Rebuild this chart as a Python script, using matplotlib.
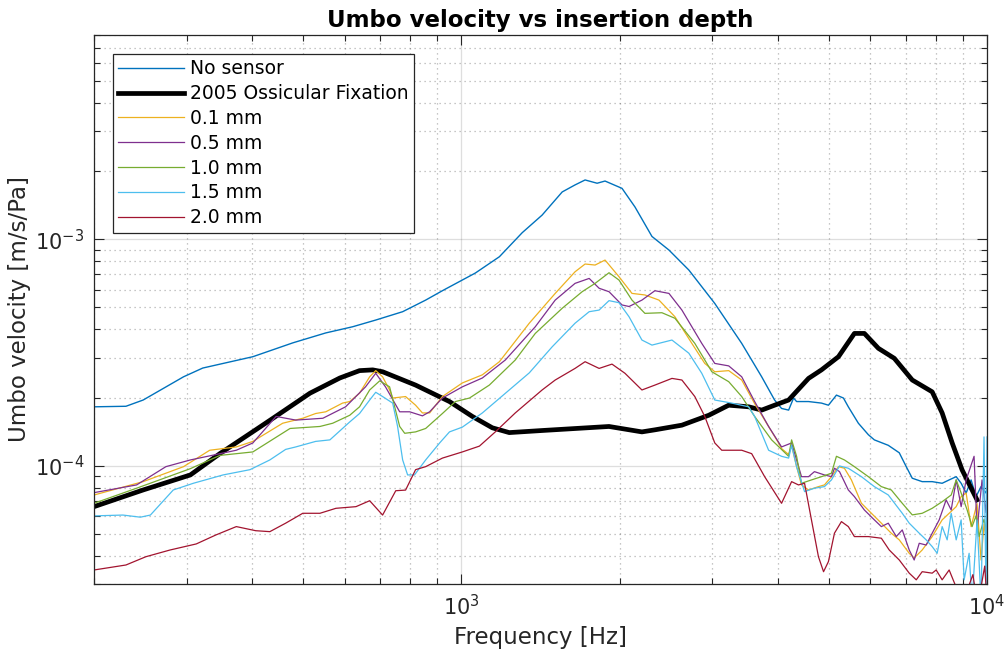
import matplotlib
matplotlib.use("Agg")
import matplotlib.pyplot as plt
from matplotlib.ticker import LogLocator, LogFormatterMathtext, NullFormatter

# frequency [Hz] / umbo velocity [m/s/Pa]
f_ns = [200, 230, 248, 296, 322, 401, 478, 552, 621, 687, 773, 855, 920, 1063, 1181,
        1305, 1424, 1555, 1645, 1719, 1812, 1876, 2021, 2139, 2304, 2482, 2708, 3034,
        3414, 3726, 3943, 4065, 4193, 4285, 4342, 4575, 4842, 4992, 5170, 5331, 5446,
        5691, 5946, 6104, 6488, 6808, 7019, 7207, 7527, 7864, 8215, 8471, 8736, 8928,
        9126, 9325, 9530, 9741, 9957, 10000]
v_ns = [1.82e-4, 1.83e-4, 1.95e-4, 2.47e-4, 2.70e-4, 3.03e-4, 3.49e-4, 3.86e-4, 4.11e-4,
        4.40e-4, 4.79e-4, 5.39e-4, 5.93e-4, 7.10e-4, 8.38e-4, 1.07e-3, 1.28e-3, 1.62e-3,
        1.74e-3, 1.83e-3, 1.77e-3, 1.81e-3, 1.68e-3, 1.39e-3, 1.03e-3, 8.97e-4, 7.32e-4,
        5.21e-4, 3.47e-4, 2.47e-4, 1.95e-4, 1.79e-4, 1.76e-4, 1.99e-4, 1.92e-4, 1.92e-4,
        1.89e-4, 1.85e-4, 2.05e-4, 1.99e-4, 1.82e-4, 1.54e-4, 1.37e-4, 1.30e-4, 1.23e-4,
        1.14e-4, 9.9e-5, 8.8e-5, 8.5e-5, 8.5e-5, 8.36e-5, 8.65e-5, 8.94e-5, 8.36e-5,
        7.57e-5, 8.65e-5, 7.3e-5, 8.08e-5, 7.57e-5, 8.0e-5]

f_fix = [200, 248, 305, 347, 406, 438, 515, 587, 640, 678, 708, 818, 949, 1049, 1145,
         1233, 1424, 1909, 2205, 2334, 2627, 2955, 3225, 3520, 3726, 3943, 4193, 4575,
         4842, 5216, 5593, 5843, 6213, 6662, 7207, 7864, 8215, 8584, 8967, 9366, 9572]
v_fix = [6.59e-5, 7.81e-5, 9.1e-5, 1.13e-4, 1.44e-4, 1.62e-4, 2.09e-4, 2.44e-4, 2.63e-4,
         2.65e-4, 2.60e-4, 2.27e-4, 1.92e-4, 1.65e-4, 1.47e-4, 1.40e-4, 1.43e-4, 1.49e-4,
         1.41e-4, 1.44e-4, 1.51e-4, 1.67e-4, 1.85e-4, 1.82e-4, 1.76e-4, 1.85e-4, 1.95e-4,
         2.43e-4, 2.65e-4, 3.03e-4, 3.84e-4, 3.84e-4, 3.30e-4, 2.98e-4, 2.39e-4, 2.12e-4,
         1.71e-4, 1.26e-4, 9.57e-5, 7.81e-5, 7.06e-5]

f_01 = [200, 248, 296, 332, 373, 401, 457, 499, 528, 552, 594, 613, 640, 669, 687, 708,
        730, 740, 783, 818, 843, 870, 920, 1004, 1096, 1181, 1346, 1508, 1645, 1719, 1796,
        1876, 1994, 2111, 2234, 2376, 2548, 2744, 2904, 3034, 3225, 3414, 3613, 3775, 4012,
        4065, 4193, 4248, 4342, 4436, 4575, 4778, 4905, 5058, 5216, 5354, 5520, 5768, 6026,
        6294, 6574, 6808, 7112, 7268, 7527, 7864, 8215, 8471, 8736, 8928, 9126, 9325, 9572,
        9741, 9869, 10000]
v_01 = [7.42e-5, 8.50e-5, 9.9e-5, 1.17e-4, 1.21e-4, 1.28e-4, 1.54e-4, 1.62e-4, 1.70e-4,
        1.73e-4, 1.89e-4, 1.92e-4, 2.09e-4, 2.47e-4, 2.63e-4, 2.47e-4, 2.16e-4, 1.99e-4,
        2.02e-4, 1.85e-4, 1.71e-4, 1.71e-4, 2.02e-4, 2.32e-4, 2.52e-4, 2.88e-4, 4.26e-4,
        5.77e-4, 7.19e-4, 7.78e-4, 7.7e-4, 8.10e-4, 6.84e-4, 5.77e-4, 5.68e-4, 5.39e-4,
        4.55e-4, 3.47e-4, 2.83e-4, 2.60e-4, 2.63e-4, 2.39e-4, 1.88e-4, 1.59e-4, 1.26e-4,
        1.19e-4, 1.12e-4, 1.23e-4, 9.9e-5, 8.22e-5, 7.81e-5, 8.08e-5, 8.22e-5, 8.94e-5,
        9.9e-5, 9.74e-5, 8.65e-5, 6.82e-5, 6.16e-5, 5.57e-5, 5.03e-5, 4.70e-5, 4.10e-5,
        3.91e-5, 4.24e-5, 4.86e-5, 5.76e-5, 6.16e-5, 6.59e-5, 7.3e-5, 7.57e-5, 5.38e-5,
        6.8e-5, 3.83e-5, 5.5e-5, 4.5e-5]

f_05 = [200, 241, 274, 305, 373, 401, 444, 484, 545, 602, 657, 687, 717, 763, 797, 843,
        870, 920, 1004, 1096, 1212, 1382, 1508, 1645, 1750, 1828, 1909, 2021, 2084, 2205,
        2334, 2482, 2627, 2866, 3034, 3225, 3414, 3613, 3841, 4065, 4248, 4342, 4436, 4575,
        4695, 4905, 5058, 5125, 5240, 5446, 5593, 5843, 6104, 6294, 6488, 6720, 6898, 7112,
        7268, 7430, 7660, 7864, 8109, 8360, 8547, 8736, 8928, 9126, 9448, 9572, 9784, 9957,
        10000]
v_05 = [7.6e-5, 8.22e-5, 9.9e-5, 1.06e-4, 1.17e-4, 1.26e-4, 1.65e-4, 1.59e-4, 1.62e-4,
        1.82e-4, 2.23e-4, 2.56e-4, 2.23e-4, 1.73e-4, 1.73e-4, 1.66e-4, 1.73e-4, 1.99e-4,
        2.23e-4, 2.44e-4, 2.93e-4, 4.11e-4, 5.39e-4, 6.39e-4, 6.72e-4, 6.08e-4, 5.87e-4,
        5.13e-4, 5.05e-4, 5.39e-4, 5.93e-4, 5.77e-4, 4.87e-4, 3.47e-4, 2.83e-4, 2.76e-4,
        2.47e-4, 1.92e-4, 1.49e-4, 1.21e-4, 1.26e-4, 1.06e-4, 8.94e-5, 8.94e-5, 9.41e-5,
        9.1e-5, 8.94e-5, 9.74e-5, 9.41e-5, 7.81e-5, 7.30e-5, 6.37e-5, 5.76e-5, 5.38e-5,
        5.57e-5, 4.86e-5, 5.20e-5, 4.24e-5, 3.83e-5, 4.54e-5, 4.46e-5, 5.03e-5, 5.76e-5,
        7.06e-5, 6.37e-5, 8.65e-5, 6.59e-5, 8.65e-5, 1.10e-4, 5.20e-5, 8.65e-5, 6.2e-5,
        7.5e-5]

f_10 = [200, 241, 305, 347, 401, 472, 538, 569, 613, 640, 669, 699, 730, 763, 780, 818,
        855, 920, 974, 1036, 1130, 1266, 1382, 1555, 1697, 1796, 1909, 1994, 2111, 2234,
        2407, 2548, 2780, 2995, 3225, 3414, 3613, 3892, 4193, 4248, 4342, 4436, 4634, 4842,
        5058, 5170, 5354, 5593, 5946, 6294, 6574, 6898, 7207, 7527, 7864, 8215, 8547, 8736,
        8928, 9166, 9366, 9530, 9656, 9869, 10000]
v_10 = [6.82e-5, 7.95e-5, 9.7e-5, 1.11e-4, 1.15e-4, 1.46e-4, 1.49e-4, 1.54e-4, 1.67e-4,
        1.82e-4, 2.16e-4, 2.37e-4, 2.23e-4, 1.49e-4, 1.39e-4, 1.41e-4, 1.46e-4, 1.70e-4,
        1.92e-4, 1.99e-4, 2.27e-4, 2.93e-4, 3.84e-4, 4.96e-4, 5.87e-4, 6.39e-4, 7.12e-4,
        6.61e-4, 5.39e-4, 4.71e-4, 4.74e-4, 4.48e-4, 3.47e-4, 2.60e-4, 2.35e-4, 2.02e-4,
        1.65e-4, 1.30e-4, 1.10e-4, 1.30e-4, 1.10e-4, 8.36e-5, 8.65e-5, 8.94e-5, 9.26e-5,
        1.10e-4, 1.06e-4, 9.9e-5, 8.94e-5, 8.08e-5, 7.81e-5, 6.82e-5, 6.06e-5, 6.16e-5,
        6.48e-5, 6.93e-5, 7.42e-5, 8.65e-5, 7.57e-5, 6.37e-5, 5.38e-5, 6.0e-5, 4.86e-5,
        5.8e-5, 5.0e-5]

f_15 = [200, 227, 245, 256, 283, 309, 352, 396, 432, 463, 484, 528, 562, 613, 640, 669,
        687, 708, 740, 756, 773, 790, 814, 855, 909, 949, 1004, 1096, 1233, 1346, 1488,
        1645, 1750, 1828, 1909, 1994, 2084, 2205, 2304, 2515, 2708, 2866, 3034, 3268, 3520,
        3613, 3841, 4065, 4193, 4248, 4342, 4496, 4695, 4905, 5058, 5240, 5446, 5768, 6104,
        6488, 6898, 7112, 7430, 7660, 7864, 8038, 8215, 8397, 8547, 8736, 8928, 9046, 9245,
        9366, 9572, 9741, 9869, 9957, 10000]
v_15 = [6.0e-5, 6.05e-5, 5.92e-5, 6.05e-5, 7.81e-5, 8.36e-5, 9.1e-5, 9.6e-5, 1.06e-4,
        1.18e-4, 1.21e-4, 1.28e-4, 1.30e-4, 1.56e-4, 1.70e-4, 1.95e-4, 2.11e-4, 2.02e-4,
        1.89e-4, 1.49e-4, 1.06e-4, 9.1e-5, 9.1e-5, 1.06e-4, 1.26e-4, 1.41e-4, 1.48e-4,
        1.71e-4, 2.16e-4, 2.57e-4, 3.35e-4, 4.26e-4, 4.79e-4, 4.87e-4, 5.36e-4, 5.25e-4,
        4.55e-4, 3.59e-4, 3.41e-4, 3.59e-4, 3.14e-4, 2.56e-4, 1.95e-4, 1.89e-4, 1.82e-4,
        1.65e-4, 1.17e-4, 1.10e-4, 1.08e-4, 1.23e-4, 9.9e-5, 7.68e-5, 7.95e-5, 8.08e-5,
        8.65e-5, 9.97e-5, 9.74e-5, 8.94e-5, 8.08e-5, 7.42e-5, 6.16e-5, 5.57e-5, 5.03e-5,
        4.70e-5, 4.39e-5, 4.10e-5, 5.38e-5, 4.70e-5, 6.16e-5, 4.70e-5, 5.76e-5, 3.13e-5,
        4.10e-5, 2.5e-5, 5.76e-5, 2.5e-5, 1.34e-4, 2.5e-5, 1.34e-4]

f_20 = [200, 230, 251, 279, 313, 341, 373, 406, 432, 463, 499, 538, 577, 630, 669, 708,
        750, 783, 818, 855, 920, 1004, 1082, 1160, 1266, 1424, 1508, 1645, 1719, 1828, 1934,
        2047, 2205, 2334, 2515, 2627, 2780, 2904, 3034, 3128, 3414, 3566, 3775, 4065, 4248,
        4378, 4496, 4634, 4778, 4886, 4992, 5125, 5284, 5446, 5593, 5946, 6294, 6516, 6808,
        7112, 7334, 7527, 7864, 8003, 8215, 8471, 8736, 9000, 9400, 9600, 9900, 10000]
v_20 = [3.46e-5, 3.64e-5, 3.96e-5, 4.24e-5, 4.51e-5, 4.94e-5, 5.38e-5, 5.16e-5, 5.11e-5,
        5.57e-5, 6.16e-5, 6.16e-5, 6.48e-5, 6.59e-5, 7.0e-5, 6.05e-5, 7.75e-5, 7.8e-5,
        9.6e-5, 9.9e-5, 1.08e-4, 1.15e-4, 1.22e-4, 1.41e-4, 1.71e-4, 2.16e-4, 2.39e-4,
        2.69e-4, 2.88e-4, 2.69e-4, 2.81e-4, 2.56e-4, 2.16e-4, 2.27e-4, 2.43e-4, 2.39e-4,
        2.02e-4, 1.65e-4, 1.26e-4, 1.17e-4, 1.17e-4, 1.13e-4, 8.94e-5, 6.82e-5, 8.50e-5,
        8.22e-5, 8.36e-5, 5.76e-5, 3.96e-5, 3.40e-5, 3.77e-5, 5.03e-5, 5.66e-5, 5.38e-5,
        4.86e-5, 4.86e-5, 4.78e-5, 4.24e-5, 3.83e-5, 3.35e-5, 3.13e-5, 3.40e-5, 3.35e-5,
        3.46e-5, 3.13e-5, 3.46e-5, 2.9e-5, 2.5e-5, 3.3e-5, 2.4e-5, 3.6e-5, 2.5e-5]

labels = ['No sensor', '2005 Ossicular Fixation', '0.1 mm', '0.5 mm', '1.0 mm',
          '1.5 mm', '2.0 mm']
colors = ['#0072BD', '#000000', '#EDB120', '#7E2F8E', '#77AC30', '#4DBEEE', '#A2142F']
widths = [1.0, 3.4, 0.9, 0.9, 0.9, 0.9, 0.9]

dark = '#262626'


def main():
    fig = plt.figure(figsize=(10.08, 6.55), dpi=100)
    ax = fig.add_axes([0.0933, 0.1084, 0.8859, 0.8382])

    series = [(f_ns, v_ns), (f_fix, v_fix), (f_01, v_01), (f_05, v_05),
              (f_10, v_10), (f_15, v_15), (f_20, v_20)]
    for (f, v), c, lw, lab in zip(series, colors, widths, labels):
        ax.plot(f, v, color=c, lw=lw, label=lab)

    ax.set_xscale('log')
    ax.set_yscale('log')
    ax.set_xlim(200, 10000)
    ax.set_ylim(3e-5, 8e-3)

    for axis in (ax.xaxis, ax.yaxis):
        axis.set_major_locator(LogLocator(base=10))
        axis.set_major_formatter(LogFormatterMathtext())
        axis.set_minor_locator(LogLocator(base=10, subs=range(2, 10)))
        axis.set_minor_formatter(NullFormatter())

    ax.grid(True, which='major', color=dark, alpha=0.15, lw=0.9)
    ax.grid(True, which='minor', color=dark, alpha=0.35, lw=0.9, ls=(0, (1, 3)))
    ax.set_axisbelow(True)

    ax.tick_params(which='both', direction='in', top=True, right=True,
                   colors=dark, labelsize=15, width=0.8)
    ax.tick_params(which='major', length=7, pad=7)
    ax.tick_params(which='minor', length=4.5)
    for s in ax.spines.values():
        s.set_color(dark)
        s.set_linewidth(0.9)

    ax.set_xlabel('Frequency [Hz]', fontsize=16.5, color=dark, labelpad=5)
    ax.set_ylabel('Umbo velocity [m/s/Pa]', fontsize=16.5, color=dark, labelpad=3)
    ax.set_title('Umbo velocity vs insertion depth', fontsize=16.5, fontweight='bold',
                 pad=6)

    leg = ax.legend(loc='upper left', fontsize=13.5, fancybox=False, framealpha=1,
                    edgecolor=dark, handlelength=3.5, handletextpad=0.3,
                    labelspacing=0.31, borderpad=0.3, borderaxespad=1.0)
    leg.get_frame().set_linewidth(0.9)

    fig.savefig('out.png', dpi=100)


main()
